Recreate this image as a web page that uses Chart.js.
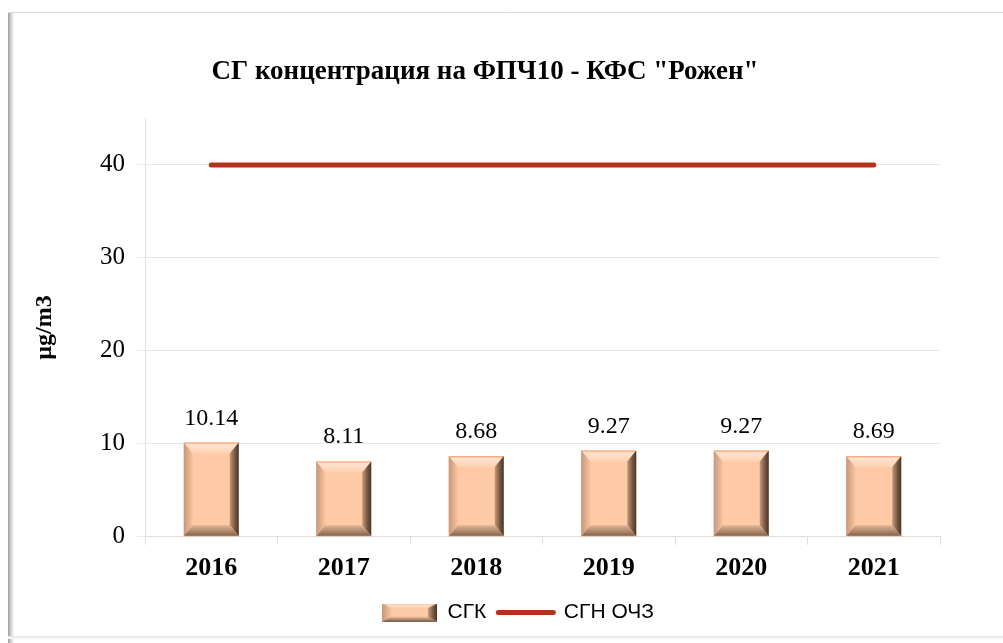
<!DOCTYPE html>
<html>
<head>
<meta charset="utf-8">
<script src="https://cdn.jsdelivr.net/npm/chart.js@4.4.1/dist/chart.umd.min.js"></script>
<style>
html,body{margin:0;padding:0;background:#fff;}
#wrap{position:relative;width:1003px;height:643px;}
</style>
</head>
<body>
<div id="wrap"><canvas id="c" width="1003" height="643"></canvas></div>
<script>
const categories = ['2016','2017','2018','2019','2020','2021'];
const sgkValues = [10.14, 8.11, 8.68, 9.27, 9.27, 8.69];
const limitValues = [40, 40, 40, 40, 40, 40];
const yTicks = [0, 10, 20, 30, 40];
const titleText = 'СГ концентрация на ФПЧ10 - КФС "Рожен"';
const yTitle = 'µg/m3';
const seriesNames = ['СГК', 'СГН ОЧЗ'];

function drawBevel(ctx, l, t, r, b, bxMax, byMax) {
  const w = r - l, h = b - t;
  const bx = Math.min(bxMax, w / 4), by = Math.min(byMax, h / 4);
  ctx.fillStyle = '#fdcaa5';
  ctx.fillRect(l, t, w, h);
  let g = ctx.createLinearGradient(0, t, 0, t + by);
  g.addColorStop(0, '#f0a070'); g.addColorStop(0.2, '#fde3cf'); g.addColorStop(1, '#fdd2b2');
  ctx.fillStyle = g;
  ctx.beginPath(); ctx.moveTo(l, t); ctx.lineTo(r, t); ctx.lineTo(r - bx, t + by); ctx.lineTo(l + bx, t + by); ctx.closePath(); ctx.fill();
  g = ctx.createLinearGradient(l, 0, l + bx, 0);
  g.addColorStop(0, '#c9967a'); g.addColorStop(1, '#f8c49f');
  ctx.fillStyle = g;
  ctx.beginPath(); ctx.moveTo(l, t); ctx.lineTo(l + bx, t + by); ctx.lineTo(l + bx, b - by); ctx.lineTo(l, b); ctx.closePath(); ctx.fill();
  g = ctx.createLinearGradient(r - bx, 0, r, 0);
  g.addColorStop(0, '#c49a7c'); g.addColorStop(0.55, '#7a5a44'); g.addColorStop(1, '#4a3324');
  ctx.fillStyle = g;
  ctx.beginPath(); ctx.moveTo(r, t); ctx.lineTo(r, b); ctx.lineTo(r - bx, b - by); ctx.lineTo(r - bx, t + by); ctx.closePath(); ctx.fill();
  g = ctx.createLinearGradient(0, b - by, 0, b);
  g.addColorStop(0, '#e2b696'); g.addColorStop(0.75, '#9a765d'); g.addColorStop(0.9, '#86644f'); g.addColorStop(1, '#e8b08a');
  ctx.fillStyle = g;
  ctx.beginPath(); ctx.moveTo(l, b); ctx.lineTo(l + bx, b - by); ctx.lineTo(r - bx, b - by); ctx.lineTo(r, b); ctx.closePath(); ctx.fill();
}

const sw = document.createElement('canvas');
sw.width = 55; sw.height = 18;
drawBevel(sw.getContext('2d'), 0, 0, 55, 18, 9, 6);

const framePlugin = {
  id: 'frame',
  afterLayout(chart) {
    const lg = chart.legend;
    if (lg) { lg.left += 33; lg.right += 33; lg.top -= 2; lg.bottom -= 2; }
  },
  beforeDraw(chart) {
    const ctx = chart.ctx;
    ctx.save();
    ctx.fillStyle = '#ffffff';
    ctx.fillRect(0, 0, chart.width, chart.height);
    const shades = ['#a6a6a6', '#b8b8b8', '#cacaca', '#dadada', '#e8e8e8', '#f3f3f3'];
    shades.forEach((c, i) => { ctx.fillStyle = c; ctx.fillRect(8 + i, 13, 1, chart.height - 13); });
    ctx.strokeStyle = '#d9d9d9'; ctx.lineWidth = 1;
    ctx.beginPath(); ctx.moveTo(8, 12.5); ctx.lineTo(chart.width, 12.5); ctx.stroke();
    ctx.fillStyle = '#e6e6e6'; ctx.fillRect(8, 636, chart.width - 8, 1);
    ctx.fillStyle = '#f2f2f2'; ctx.fillRect(8, 637, chart.width - 8, 2);
    ctx.restore();
  }
};

const bevelPlugin = {
  id: 'bevel',
  afterDatasetDraw(chart, args) {
    if (args.index !== 0) return;
    const ctx = chart.ctx;
    const meta = chart.getDatasetMeta(0);
    ctx.save();
    meta.data.forEach((el, i) => {
      const p = el.getProps(['x', 'y', 'base', 'width'], true);
      drawBevel(ctx, p.x - p.width / 2, p.y, p.x + p.width / 2, p.base, 9, 11);
      ctx.font = '24px "Liberation Serif", "Times New Roman", serif';
      ctx.fillStyle = '#000';
      ctx.textAlign = 'center';
      ctx.textBaseline = 'alphabetic';
      ctx.fillText(sgkValues[i].toFixed(2), p.x, p.y - 18);
    });
    ctx.restore();
  }
};

new Chart(document.getElementById('c'), {
  data: {
    labels: categories,
    datasets: [
      {
        type: 'bar',
        label: seriesNames[0],
        data: sgkValues,
        backgroundColor: 'rgba(0,0,0,0)',
        borderWidth: 0,
        categoryPercentage: 1,
        barPercentage: 0.415,
        order: 2
      },
      {
        type: 'line',
        label: seriesNames[1],
        data: limitValues,
        borderColor: '#b5321a',
        backgroundColor: '#b5321a',
        borderWidth: 5,
        borderCapStyle: 'round',
        pointRadius: 0,
        pointHoverRadius: 0,
        fill: false,
        order: 1
      }
    ]
  },
  options: {
    responsive: false,
    animation: false,
    layout: { padding: { left: 30, right: 63, top: 0, bottom: 8 } },
    plugins: {
      tooltip: { enabled: false },
      title: {
        display: true,
        text: titleText,
        color: '#000',
        font: { family: '"Liberation Serif", "Times New Roman", serif', size: 27, weight: 'bold' },
        padding: { top: 56, bottom: 30 }
      },
      legend: {
        position: 'bottom',
        labels: {
          color: '#000',
          font: { family: '"Liberation Sans", Arial, sans-serif', size: 21 },
          usePointStyle: true,
          pointStyleWidth: 55,
          boxHeight: 18,
          padding: 12,
          sort: (a, b) => a.datasetIndex - b.datasetIndex,
          generateLabels(chart) {
            const items = Chart.defaults.plugins.legend.labels.generateLabels(chart);
            items.forEach(it => {
              if (it.datasetIndex === 0) {
                it.pointStyle = sw;
              } else {
                it.pointStyle = 'line';
                it.lineWidth = 5;
                it.strokeStyle = '#b5321a';
                it.lineCap = 'round';
              }
            });
            return items;
          }
        }
      }
    },
    scales: {
      x: {
        grid: { drawOnChartArea: false, color: '#e3ded9', tickLength: 8, offset: true },
        border: { color: '#e3ded9' },
        ticks: {
          color: '#000',
          padding: 8,
          font: { family: '"Liberation Serif", "Times New Roman", serif', size: 26, weight: 'bold' }
        }
      },
      y: {
        min: 0,
        max: 45,
        afterBuildTicks(scale) { scale.ticks = yTicks.map(v => ({ value: v })); },
        afterFit(scale) { scale.width = 115; },
        grid: { color: '#ebe6e1', tickLength: 8 },
        border: { color: '#e3ded9' },
        ticks: {
          color: '#000',
          padding: 12,
          font: { family: '"Liberation Serif", "Times New Roman", serif', size: 25 }
        },
        title: {
          display: true,
          text: yTitle,
          color: '#000',
          padding: 0,
          font: { family: '"Liberation Serif", "Times New Roman", serif', size: 24, weight: 'bold' }
        }
      }
    }
  },
  plugins: [framePlugin, bevelPlugin]
});
</script>
</body>
</html>
